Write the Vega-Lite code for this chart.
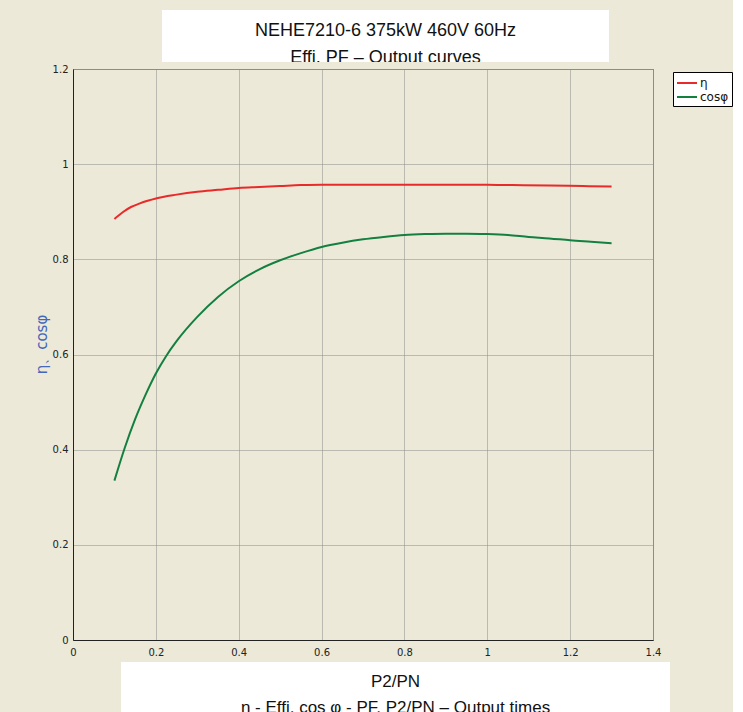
{
  "$schema": "https://vega.github.io/schema/vega-lite/v6.json",
  "background": "#ECE9D8",
  "padding": {"left": 33, "top": 10, "right": 0, "bottom": 0},
  "spacing": 1,
  "config": {
    "view": {"stroke": null},
    "font": "DejaVu Sans"
  },
  "datasets": {
    "curves": [
      {"p": 0.10, "v": 0.885, "s": "η"},
      {"p": 0.12, "v": 0.899, "s": "η"},
      {"p": 0.14, "v": 0.910, "s": "η"},
      {"p": 0.16, "v": 0.917, "s": "η"},
      {"p": 0.18, "v": 0.923, "s": "η"},
      {"p": 0.20, "v": 0.928, "s": "η"},
      {"p": 0.25, "v": 0.936, "s": "η"},
      {"p": 0.30, "v": 0.942, "s": "η"},
      {"p": 0.35, "v": 0.946, "s": "η"},
      {"p": 0.40, "v": 0.950, "s": "η"},
      {"p": 0.45, "v": 0.952, "s": "η"},
      {"p": 0.50, "v": 0.954, "s": "η"},
      {"p": 0.55, "v": 0.956, "s": "η"},
      {"p": 0.60, "v": 0.957, "s": "η"},
      {"p": 0.70, "v": 0.957, "s": "η"},
      {"p": 0.80, "v": 0.957, "s": "η"},
      {"p": 0.90, "v": 0.957, "s": "η"},
      {"p": 1.00, "v": 0.957, "s": "η"},
      {"p": 1.06, "v": 0.956, "s": "η"},
      {"p": 1.15, "v": 0.955, "s": "η"},
      {"p": 1.23, "v": 0.954, "s": "η"},
      {"p": 1.30, "v": 0.953, "s": "η"},
      {"p": 0.10, "v": 0.335, "s": "cosφ"},
      {"p": 0.125, "v": 0.404, "s": "cosφ"},
      {"p": 0.15, "v": 0.464, "s": "cosφ"},
      {"p": 0.175, "v": 0.515, "s": "cosφ"},
      {"p": 0.20, "v": 0.560, "s": "cosφ"},
      {"p": 0.225, "v": 0.597, "s": "cosφ"},
      {"p": 0.25, "v": 0.628, "s": "cosφ"},
      {"p": 0.30, "v": 0.679, "s": "cosφ"},
      {"p": 0.35, "v": 0.721, "s": "cosφ"},
      {"p": 0.40, "v": 0.754, "s": "cosφ"},
      {"p": 0.45, "v": 0.779, "s": "cosφ"},
      {"p": 0.50, "v": 0.798, "s": "cosφ"},
      {"p": 0.55, "v": 0.813, "s": "cosφ"},
      {"p": 0.60, "v": 0.826, "s": "cosφ"},
      {"p": 0.65, "v": 0.835, "s": "cosφ"},
      {"p": 0.70, "v": 0.842, "s": "cosφ"},
      {"p": 0.75, "v": 0.847, "s": "cosφ"},
      {"p": 0.80, "v": 0.851, "s": "cosφ"},
      {"p": 0.85, "v": 0.853, "s": "cosφ"},
      {"p": 0.90, "v": 0.854, "s": "cosφ"},
      {"p": 0.95, "v": 0.854, "s": "cosφ"},
      {"p": 1.00, "v": 0.853, "s": "cosφ"},
      {"p": 1.05, "v": 0.851, "s": "cosφ"},
      {"p": 1.10, "v": 0.847, "s": "cosφ"},
      {"p": 1.15, "v": 0.844, "s": "cosφ"},
      {"p": 1.20, "v": 0.840, "s": "cosφ"},
      {"p": 1.25, "v": 0.837, "s": "cosφ"},
      {"p": 1.30, "v": 0.834, "s": "cosφ"}
    ],
    "header": [
      {"line": 1, "text": "NEHE7210-6 375kW 460V 60Hz"},
      {"line": 2, "text": "Effi, PF – Output curves"}
    ],
    "footer": [
      {"line": 1, "text": "P2/PN"},
      {"line": 2, "text": "η - Effi, cos φ - PF, P2/PN – Output times"}
    ]
  },
  "vconcat": [
    {
      "bounds": "flush",
      "spacing": 10,
      "hconcat": [
        {
          "data": {"values": []},
          "mark": "point",
          "width": 79,
          "height": 52,
          "view": {"stroke": null, "fill": null}
        },
        {
          "data": {"name": "header"},
          "width": 447,
          "height": 52,
          "view": {"fill": "white", "stroke": null},
          "mark": {"type": "text", "font": "Liberation Sans", "fontSize": 18, "color": "#111", "baseline": "alphabetic", "clip": true},
          "encoding": {
            "y": {"field": "line", "type": "quantitative", "scale": {"domain": [0.0189, 1.981], "reverse": true, "nice": false, "zero": false}, "axis": null},
            "text": {"field": "text", "type": "nominal"}
          }
        }
      ]
    },
    {
      "bounds": "flush",
      "spacing": 22,
      "vconcat": [
        {
          "data": {"name": "curves"},
          "width": 580,
          "height": 571,
          "view": {"fill": "#ECE9D8", "stroke": "#333", "strokeDash": [1, 1]},
          "mark": {"type": "line", "strokeWidth": 2, "interpolate": "monotone"},
          "encoding": {
            "x": {
              "field": "p", "type": "quantitative",
              "scale": {"domain": [0, 1.4], "nice": false},
              "axis": {
                "title": null, "values": [0, 0.2, 0.4, 0.6, 0.8, 1, 1.2, 1.4], "format": "~g",
                "labelFont": "DejaVu Sans", "labelFontSize": 10, "labelColor": "#222",
                "labelPadding": 7, "labelFlush": false, "labelOverlap": false, "ticks": false,
                "domainColor": "#222", "domainWidth": 1,
                "grid": true, "gridColor": "#8a8a8a", "gridDash": [1, 1], "gridOpacity": 1
              }
            },
            "y": {
              "field": "v", "type": "quantitative",
              "scale": {"domain": [0, 1.2], "nice": false},
              "axis": {
                "title": "η、cosφ", "titleColor": "#4466BB", "titleFont": "DejaVu Sans", "titleFontSize": 15, "titleFontWeight": "normal", "titlePadding": 3, "titleY": 275,
                "values": [0, 0.2, 0.4, 0.6, 0.8, 1, 1.2], "format": "~g",
                "labelFont": "DejaVu Sans", "labelFontSize": 10, "labelColor": "#222",
                "labelPadding": 5, "labelFlush": false, "labelOverlap": false, "ticks": false,
                "domainColor": "#222", "domainWidth": 1,
                "grid": true, "gridColor": "#8a8a8a", "gridDash": [1, 1], "gridOpacity": 1
              }
            },
            "color": {
              "field": "s", "type": "nominal",
              "scale": {"domain": ["η", "cosφ"], "range": ["#E82A2A", "#148040"]},
              "legend": {
                "title": null, "orient": "none", "legendX": 600, "legendY": 62,
                "fillColor": "white", "strokeColor": "#000", "padding": 3,
                "symbolType": "M-1.43,0H1.43", "symbolSize": 196, "symbolStrokeWidth": 2, "symbolOffset": 3,
                "labelFont": "DejaVu Sans", "labelFontSize": 12, "labelColor": "#111", "labelOffset": 5, "rowPadding": 0
              }
            }
          }
        },
        {
          "bounds": "flush",
          "spacing": 10,
          "hconcat": [
            {
              "data": {"values": []},
              "mark": "point",
              "width": 38,
              "height": 50,
              "view": {"stroke": null, "fill": null}
            },
            {
              "data": {"name": "footer"},
              "width": 549,
              "height": 50,
              "view": {"fill": "white", "stroke": null},
              "mark": {"type": "text", "font": "Liberation Sans", "fontSize": 17, "color": "#111", "baseline": "alphabetic", "clip": true},
              "encoding": {
                "y": {"field": "line", "type": "quantitative", "scale": {"domain": [0.0385, 1.9615], "reverse": true, "nice": false, "zero": false}, "axis": null},
                "text": {"field": "text", "type": "nominal"}
              }
            }
          ]
        }
      ]
    }
  ]
}
